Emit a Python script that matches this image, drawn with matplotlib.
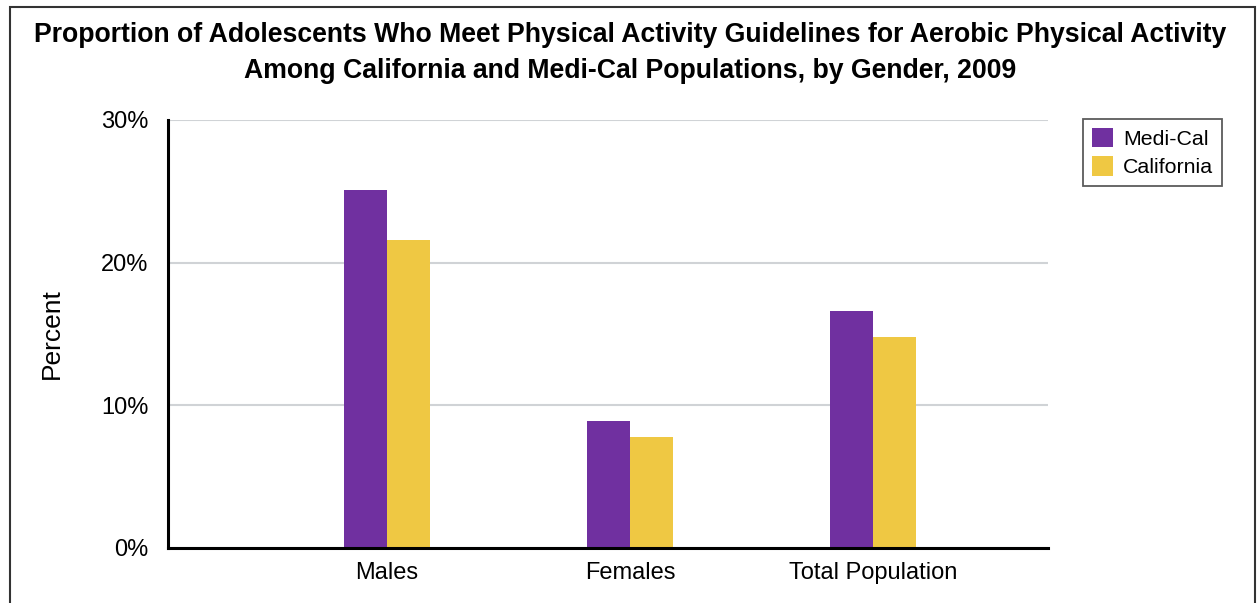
import matplotlib
matplotlib.use("Agg")
import matplotlib.pyplot as plt
import numpy as np
from matplotlib.patches import Rectangle

categories = ["Males", "Females", "Total Population"]
medi_cal = [25.1, 8.9, 16.6]
california = [21.6, 7.8, 14.8]
series_names = ["Medi-Cal", "California"]
yticks = [0, 10, 20, 30]
ytick_labels = ["0%", "10%", "20%", "30%"]
title = ("Proportion of Adolescents Who Meet Physical Activity Guidelines for Aerobic Physical Activity\n"
         "Among California and Medi-Cal Populations, by Gender, 2009")

plt.rcParams["font.family"] = ["Liberation Sans", "DejaVu Sans"]

W, H = 1257, 603
fig = plt.figure(figsize=(W / 100, H / 100), dpi=100)
fig.patch.set_facecolor("white")

ax = fig.add_axes([168 / W, 1 - 548 / H, 880 / W, 428 / H])

x = np.arange(len(categories))
bw = 0.177
ax.bar(x - bw / 2, medi_cal, width=bw, color="#7030A0", label=series_names[0], zorder=3)
ax.bar(x + bw / 2, california, width=bw, color="#EFC843", label=series_names[1], zorder=3)

ax.set_xlim(-0.901, 2.72)
ax.set_ylim(0, 30)
ax.set_yticks(yticks)
ax.set_yticklabels(ytick_labels, fontsize=17)
ax.set_xticks(x)
ax.set_xticklabels(categories, fontsize=17)
ax.tick_params(axis="x", length=0, pad=10)
ax.tick_params(axis="y", length=0, pad=14)
ax.yaxis.grid(True, color="#d0d3d6", linewidth=1.5, zorder=0)
ax.set_axisbelow(True)
for s in ["top", "right"]:
    ax.spines[s].set_visible(False)
for s in ["left", "bottom"]:
    ax.spines[s].set_linewidth(2.2)
    ax.spines[s].set_color("black")
    ax.spines[s].set_zorder(4)

ax.set_ylabel("Percent", fontsize=19)
ax.yaxis.set_label_coords(-104 / 880, 0.5)

fig.text(630 / W, 1 - 53 / H, title, ha="center", va="center", fontsize=19.2,
         fontweight="bold", linespacing=1.45)

leg = ax.legend(loc="upper left", bbox_to_anchor=(1083 / W, 1 - 119 / H),
                bbox_transform=fig.transFigure, fontsize=15.4, frameon=True,
                fancybox=False, edgecolor="#333333", handlelength=1.0,
                handleheight=1.0, handletextpad=0.45, borderpad=0.42,
                labelspacing=0.35, borderaxespad=0)
leg.get_frame().set_linewidth(1.3)

fig.patches.append(Rectangle((10 / W, -0.1), (1255 - 10) / W, 1.1 - 7 / H,
                             transform=fig.transFigure, fill=False,
                             edgecolor="#333333", linewidth=1.5))

fig.savefig("out.png", dpi=100)
